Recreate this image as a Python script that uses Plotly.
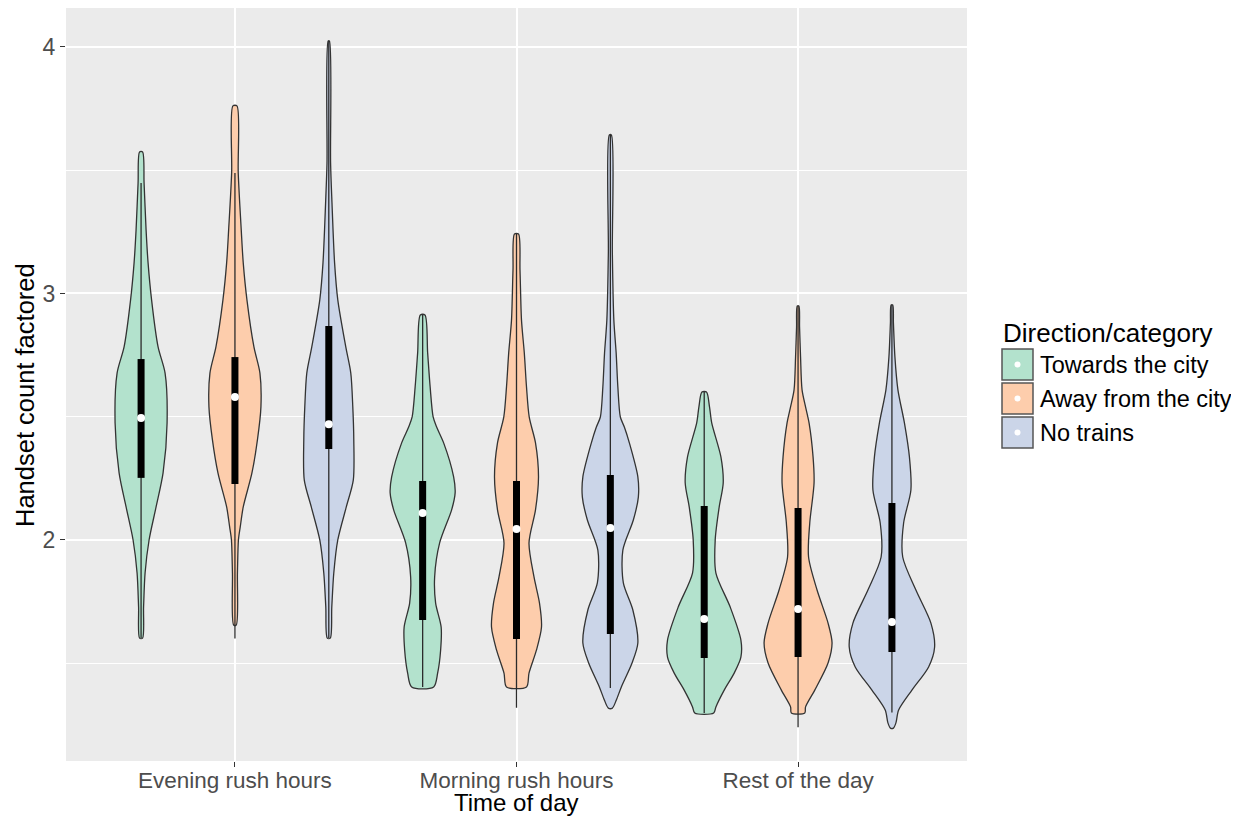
import plotly.graph_objects as go

# ---------------- data ----------------
times = ["Evening rush hours", "Morning rush hours", "Rest of the day"]
directions = ["Towards the city", "Away from the city", "No trains"]
colors = ["#B3E2CD", "#FDCDAC", "#CBD5E8"]

# violin profiles: y levels (top -> bottom) and density (half-width, arbitrary units)
ev_tow_y = [3.574, 3.448, 3.258, 3.124, 2.974, 2.783, 2.677, 2.475, 2.272, 2.134, 2.0, 1.866, 1.728, 1.602]
ev_tow_d = [1.5, 3, 5, 7, 10.5, 17, 24, 26, 22, 15, 8, 4, 2.5, 1.5]
ev_awy_y = [3.761, 3.489, 3.258, 3.124, 2.974, 2.783, 2.677, 2.540, 2.406, 2.272, 2.134, 2.053, 2.0, 1.866, 1.655]
ev_awy_d = [2, 3.3, 6.3, 8.3, 12, 19, 25, 26, 22.5, 17, 8.3, 5.3, 3.5, 2.5, 1.3]
ev_non_y = [4.024, 3.529, 3.367, 3.124, 2.974, 2.783, 2.677, 2.540, 2.406, 2.243, 2.134, 2.0, 1.866, 1.728, 1.602]
ev_non_d = [0.6, 1.8, 3.2, 5.8, 9, 17, 22, 24, 25, 24.5, 17.5, 9, 5, 3, 1.5]

mo_tow_y = [2.913, 2.759, 2.621, 2.499, 2.458, 2.394, 2.256, 2.191, 2.122, 1.988, 1.850, 1.744, 1.647, 1.554, 1.460, 1.404]
mo_tow_d = [2.3, 5, 7.5, 10.5, 14, 21, 31, 32.5, 29, 17, 12, 13, 18.5, 18, 15, 11]
mo_awy_y = [3.241, 3.095, 2.892, 2.759, 2.621, 2.499, 2.394, 2.256, 2.122, 1.988, 1.850, 1.744, 1.647, 1.554, 1.460, 1.404]
mo_awy_d = [2, 3.5, 5, 7.8, 10, 12.7, 19, 22, 19, 12.5, 17.5, 23, 25, 20, 12.5, 10]
mo_non_y = [3.643, 3.164, 2.892, 2.759, 2.621, 2.499, 2.458, 2.394, 2.256, 2.174, 2.081, 1.959, 1.826, 1.716, 1.582, 1.501, 1.404, 1.351, 1.318]
mo_non_d = [1, 2, 3.5, 5.8, 7.5, 10, 14, 19, 27.5, 28, 23, 12.5, 13, 22.5, 27.5, 21.7, 11, 6, 2]

re_tow_y = [2.600, 2.540, 2.475, 2.337, 2.231, 2.134, 2.0, 1.866, 1.728, 1.594, 1.525, 1.460, 1.391, 1.323, 1.298]
re_tow_d = [2.3, 5.3, 7.5, 16.7, 19, 15, 11, 11.7, 26, 36.7, 36.7, 30, 20, 11.7, 9.5]
re_awy_y = [2.949, 2.864, 2.742, 2.609, 2.540, 2.475, 2.337, 2.231, 2.069, 1.931, 1.797, 1.663, 1.582, 1.501, 1.391, 1.323, 1.298]
re_awy_d = [0.8, 1.5, 2.5, 4, 7.5, 11, 15, 16, 11.7, 10.5, 19, 30, 34, 30, 16.7, 7.5, 6.7]
re_non_y = [2.953, 2.880, 2.742, 2.609, 2.475, 2.337, 2.203, 2.069, 1.931, 1.797, 1.663, 1.566, 1.485, 1.391, 1.310, 1.258, 1.237]
re_non_d = [0.8, 1.5, 3, 6, 12.5, 17.5, 19, 11.7, 10.8, 24, 39, 42.7, 36.7, 20, 6.7, 4, 1.5]

# box summaries [whisker low, q1, median, q3, whisker high]
ev_tow_box = [1.602, 2.252, 2.495, 2.734, 3.448]
ev_awy_box = [1.600, 2.227, 2.580, 2.742, 3.489]
ev_non_box = [1.602, 2.369, 2.470, 2.868, 4.024]
mo_tow_box = [1.404, 1.675, 2.110, 2.239, 2.913]
mo_awy_box = [1.320, 1.598, 2.045, 2.239, 3.241]
mo_non_box = [1.400, 1.619, 2.049, 2.264, 3.643]
re_tow_box = [1.298, 1.521, 1.680, 2.138, 2.600]
re_awy_box = [1.240, 1.525, 1.720, 2.130, 2.949]
re_non_box = [1.300, 1.546, 1.667, 2.150, 2.953]

profiles = [
    [(ev_tow_y, ev_tow_d), (ev_awy_y, ev_awy_d), (ev_non_y, ev_non_d)],
    [(mo_tow_y, mo_tow_d), (mo_awy_y, mo_awy_d), (mo_non_y, mo_non_d)],
    [(re_tow_y, re_tow_d), (re_awy_y, re_awy_d), (re_non_y, re_non_d)],
]
boxes = [
    [ev_tow_box, ev_awy_box, ev_non_box],
    [mo_tow_box, mo_awy_box, mo_non_box],
    [re_tow_box, re_awy_box, re_non_box],
]

# ---------------- style ----------------
DENS_SCALE = 1 / 281.6      # density units -> x-axis units
DODGE = 1 / 3
FONT = "Liberation Sans, Arial, Helvetica, sans-serif"
OUTLINE = "#333333"

fig = go.Figure()

for gi, t in enumerate(times):
    for di, d in enumerate(directions):
        cx = gi + 1 + (di - 1) * DODGE
        ys, ds = profiles[gi][di]
        xr = [cx + w * DENS_SCALE for w in ds]
        xl = [cx - w * DENS_SCALE for w in ds]
        px = xr[::-1] + xl
        py = ys[::-1] + ys
        fig.add_trace(go.Scatter(
            x=px + [px[0]], y=py + [py[0]], mode="lines", fill="toself",
            fillcolor=colors[di], line=dict(color=OUTLINE, width=1.3, shape="spline", smoothing=0.8),
            showlegend=False, hoverinfo="skip"))
        lo, q1, med, q3, hi = boxes[gi][di]
        fig.add_trace(go.Scatter(x=[cx, cx], y=[lo, hi], mode="lines",
                                 line=dict(color="#2b2b2b", width=1.3),
                                 showlegend=False, hoverinfo="skip"))
        fig.add_trace(go.Scatter(x=[cx, cx], y=[q1, q3], mode="lines",
                                 line=dict(color="black", width=7),
                                 showlegend=False, hoverinfo="skip"))
        fig.add_trace(go.Scatter(x=[cx], y=[med], mode="markers",
                                 marker=dict(color="white", size=8, line=dict(width=0)),
                                 showlegend=False, hoverinfo="skip"))

# ---------------- layout ----------------
# page body has an 8px margin: figure pixel = screen pixel - 8
OFF = 8
W, H = 1239 - 2 * OFF, 825 - 2 * OFF
L, T = 66 - OFF, 8 - OFF
R = W - (967 - OFF)
B = H - (761 - OFF)
PW, PH = W - L - R, H - T - B

def pxx(sx):
    return (sx - OFF - L) / PW

def pxy(sy):
    return (H - B - (sy - OFF)) / PH

fig.update_layout(
    width=W, height=H,
    margin=dict(l=L, r=R, t=T, b=B, pad=0, autoexpand=False),
    paper_bgcolor="white", plot_bgcolor="#EBEBEB",
    font=dict(family=FONT, color="black"),
    showlegend=False,
    xaxis=dict(
        range=[0.4, 3.6], tickvals=[1, 2, 3], ticktext=times,
        showgrid=True, gridcolor="white", gridwidth=2, zeroline=False,
        ticks="outside", ticklen=5, tickwidth=1.2, tickcolor="#333333",
        tickfont=dict(size=22.5, color="#4D4D4D", family=FONT),
        ticklabelstandoff=-6,
        automargin=False, showline=False,
    ),
    yaxis=dict(
        range=[1.1035, 4.158], tickvals=[2, 3, 4], ticktext=["2", "3", "4"],
        showgrid=True, gridcolor="white", gridwidth=2, zeroline=False,
        ticks="outside", ticklen=5, tickwidth=1.2, tickcolor="#333333",
        tickfont=dict(size=23, color="#4D4D4D", family=FONT),
        minor=dict(tickvals=[1.5, 2.5, 3.5], showgrid=True, gridcolor="white", gridwidth=1, ticks=""),
        automargin=False, showline=False,
    ),
)

shapes = []
annotations = []
# axis titles
annotations.append(dict(text="Time of day", x=pxx(516), y=pxy(802), xref="paper", yref="paper",
                        xanchor="center", yanchor="middle", showarrow=False,
                        font=dict(size=24, color="black", family=FONT)))
annotations.append(dict(text="Handset count factored", x=pxx(25), y=pxy(395), xref="paper", yref="paper",
                        xanchor="center", yanchor="middle", showarrow=False, textangle=-90,
                        font=dict(size=25.5, color="black", family=FONT)))

# manual legend (ggplot style keys)
annotations.append(dict(text="Direction/category", x=pxx(1001), y=pxy(333), xref="paper", yref="paper",
                        xanchor="left", yanchor="middle", showarrow=False,
                        font=dict(size=26, color="black", family=FONT)))
key_tops = [349, 383, 417]
for i, d in enumerate(directions):
    top = key_tops[i]
    shapes.append(dict(type="rect", xref="paper", yref="paper",
                       x0=pxx(1002), x1=pxx(1033), y0=pxy(top + 31), y1=pxy(top),
                       fillcolor=colors[i], line=dict(color="#555555", width=1.5)))
    shapes.append(dict(type="circle", xref="paper", yref="paper",
                       x0=pxx(1014.5), x1=pxx(1020.5), y0=pxy(top + 18.5), y1=pxy(top + 12.5),
                       fillcolor="white", line=dict(width=0)))
    annotations.append(dict(text=d, x=pxx(1038), y=pxy(top + 16), xref="paper", yref="paper",
                            xanchor="left", yanchor="middle", showarrow=False,
                            font=dict(size=23.5, color="black", family=FONT)))
fig.update_layout(shapes=shapes, annotations=annotations)

fig.write_html("out.html")
